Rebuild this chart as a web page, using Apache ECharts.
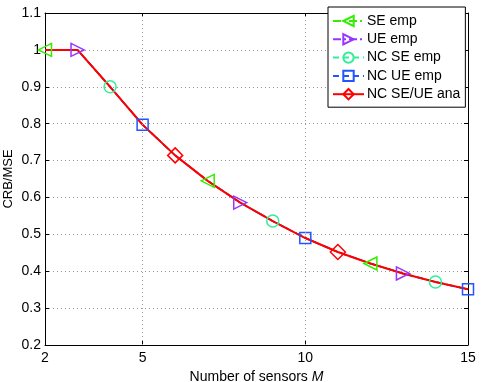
<!DOCTYPE html>
<html>
<head>
<meta charset="utf-8">
<script src="https://cdn.jsdelivr.net/npm/echarts@6/dist/echarts.min.js"></script>
<style>
html, body { margin: 0; padding: 0; background: #fff; }
#chart { width: 485px; height: 382px; }
</style>
</head>
<body>
<div id="chart"></div>
<script>
// number of sensors
var sensors = [2, 3, 4, 5, 6, 7, 8, 9, 10, 11, 12, 13, 14, 15]
// CRB/MSE per curve (all nearly overlap)
var seEmp = [1.0, 1.0, 0.9, 0.797, 0.714, 0.645, 0.586, 0.536, 0.49, 0.452, 0.421, 0.394, 0.371, 0.351]
var ueEmp = [1.0, 1.0, 0.9, 0.797, 0.714, 0.645, 0.586, 0.536, 0.49, 0.452, 0.421, 0.394, 0.371, 0.351]
var ncSeEmp = [1.0, 1.0, 0.9, 0.797, 0.714, 0.645, 0.586, 0.536, 0.49, 0.452, 0.421, 0.394, 0.371, 0.351]
var ncUeEmp = [1.0, 1.0, 0.9, 0.797, 0.714, 0.645, 0.586, 0.536, 0.49, 0.452, 0.421, 0.394, 0.371, 0.351]
var ncAna = [1.0, 1.0, 0.9, 0.797, 0.714, 0.645, 0.586, 0.536, 0.49, 0.452, 0.421, 0.394, 0.371, 0.351]
// where each curve shows its marker
var seMarks = [2, 7, 12]
var ueMarks = [3, 8, 13]
var ncSeMarks = [4, 9, 14]
var ncUeMarks = [5, 10, 15]
var anaMarks = [6, 11]
var xLabels = [2, 5, 10, 15]

var font = 'Liberation Sans, Arial, sans-serif'

function makeData(vals, marks) {
    var out = []
    for (var i = 0; i < sensors.length; i++) {
        var item = { value: [sensors[i], vals[i]] }
        if (marks.indexOf(sensors[i]) < 0) item.symbol = 'none'
        out.push(item)
    }
    return out
}

function line(name, vals, marks, color, symbol, size, type, width) {
    return {
        name: name,
        type: 'line',
        data: makeData(vals, marks),
        symbol: symbol,
        symbolSize: size,
        showAllSymbol: true,
        animation: false,
        lineStyle: { color: color, width: width, type: type },
        itemStyle: { color: 'rgba(255,255,255,0)', borderColor: color, borderWidth: 1.5 }
    }
}

var leftTri = 'path://M0,5 L9,0 L9,10 Z'
var rightTri = 'path://M9,5 L0,0 L0,10 Z'

var dom = document.getElementById('chart')
var myChart = echarts.init(dom)

var seSeries = line('SE emp', seEmp, seMarks, '#33ee00', leftTri, 13, [8, 3, 2, 3], 1.5)
// vertical grid lines at labelled x values
seSeries.markLine = {
    silent: true,
    symbol: 'none',
    animation: false,
    label: { show: false },
    lineStyle: { color: '#999', type: [1, 3], width: 1 },
    data: [{ xAxis: 5 }, { xAxis: 10 }]
}

var option = {
    backgroundColor: '#fff',
    animation: false,
    grid: { left: 45, right: 17, top: 13, bottom: 37, outerBoundsMode: 'none', containLabel: false },
    legend: {
        orient: 'vertical',
        left: 328,
        top: 7,
        width: 136,
        padding: [7, 5, 6, 4],
        itemGap: 4.3,
        itemWidth: 31,
        itemHeight: 13,
        backgroundColor: '#fff',
        borderColor: '#000',
        borderWidth: 1,
        textStyle: { fontFamily: font, fontSize: 14, color: '#000', padding: [0, 0, 0, -2] }
    },
    xAxis: [{
        type: 'value',
        min: 2,
        max: 15,
        name: '{a|Number of sensors }{b|M}',
        nameLocation: 'middle',
        nameGap: 19,
        nameTextStyle: {
            rich: {
                a: { fontFamily: font, fontSize: 14, color: '#000' },
                b: { fontFamily: font, fontSize: 14, color: '#000', fontStyle: 'italic' }
            }
        },
        axisLine: { lineStyle: { color: '#000', width: 1 } },
        axisTick: { inside: true, length: 4, customValues: [5, 10], lineStyle: { color: '#000' } },
        axisLabel: { customValues: xLabels, fontFamily: font, fontSize: 14, color: '#000', margin: 6 },
        splitLine: { show: false }
    }, {
        type: 'value',
        position: 'top',
        min: 2,
        max: 15,
        axisLine: { lineStyle: { color: '#000', width: 1 } },
        axisTick: { inside: true, length: 4, customValues: [5, 10], lineStyle: { color: '#000' } },
        axisLabel: { show: false },
        splitLine: { show: false }
    }],
    yAxis: [{
        type: 'value',
        min: 0.2,
        max: 1.1,
        interval: 0.1,
        name: 'CRB/MSE',
        nameLocation: 'middle',
        nameGap: 30,
        nameMoveOverlap: false,
        nameTextStyle: { fontFamily: font, fontSize: 13, color: '#000' },
        axisLine: { show: true, lineStyle: { color: '#000', width: 1 } },
        axisTick: { show: true, inside: true, length: 4, lineStyle: { color: '#000' } },
        axisLabel: { fontFamily: font, fontSize: 14, color: '#000', margin: 4 },
        splitLine: { show: true, lineStyle: { color: '#999', type: [1, 3], width: 1 } }
    }, {
        type: 'value',
        position: 'right',
        min: 0.2,
        max: 1.1,
        interval: 0.1,
        axisLine: { show: true, lineStyle: { color: '#000', width: 1 } },
        axisTick: { show: true, inside: true, length: 4, lineStyle: { color: '#000' } },
        axisLabel: { show: false },
        splitLine: { show: false }
    }],
    series: [
        seSeries,
        line('UE emp', ueEmp, ueMarks, '#9933ff', rightTri, 13, [8, 3, 2, 3], 1.5),
        line('NC SE emp', ncSeEmp, ncSeMarks, '#33ee99', 'circle', 12, [6, 4], 1.5),
        line('NC UE emp', ncUeEmp, ncUeMarks, '#2255ff', 'rect', 11, [6, 4], 1.5),
        line('NC SE/UE ana', ncAna, anaMarks, '#ff0000', 'diamond', 15, 'solid', 2)
    ]
}

myChart.setOption(option)
</script>
</body>
</html>
